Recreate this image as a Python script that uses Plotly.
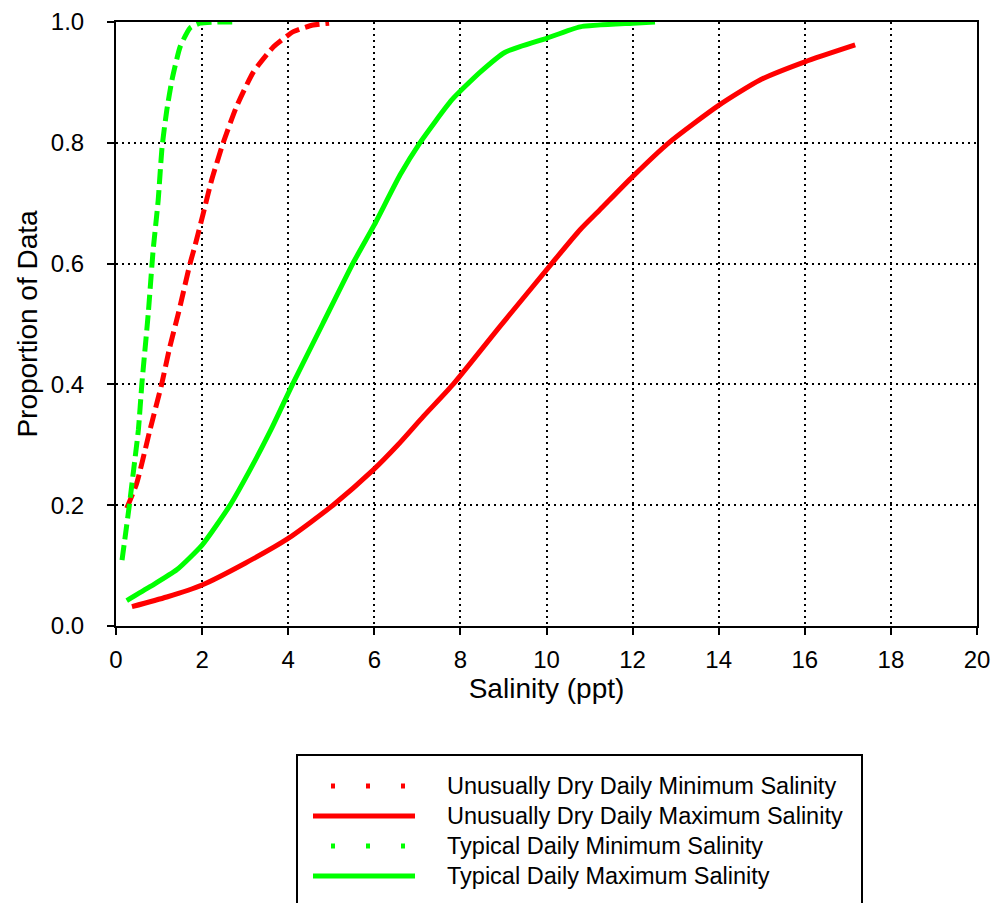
import plotly.graph_objects as go

# ---- data ----
dry_min_x = [0.25, 0.48, 0.79, 1.06, 1.25, 1.45, 1.72, 1.84, 2.03, 2.22, 2.49, 2.80, 3.19, 3.66, 4.12, 4.58, 4.95]
dry_min_y = [0.195, 0.236, 0.325, 0.40, 0.462, 0.518, 0.60, 0.631, 0.684, 0.738, 0.80, 0.86, 0.917, 0.959, 0.984, 0.995, 0.998]

dry_max_x = [0.37, 1.18, 2.0, 3.0, 4.0, 5.04, 5.97, 6.55, 7.14, 7.83, 8.92, 10.12, 10.78, 11.24, 12.0, 12.84, 14.0, 14.96, 16.0, 17.17]
dry_max_y = [0.032, 0.048, 0.068, 0.104, 0.145, 0.2, 0.258, 0.30, 0.347, 0.40, 0.496, 0.60, 0.656, 0.689, 0.744, 0.80, 0.862, 0.904, 0.934, 0.962]

typ_min_x = [0.14, 0.31, 0.40, 0.52, 0.60, 0.63, 0.75, 0.86, 0.98, 1.07, 1.18, 1.30, 1.49, 1.72, 1.95, 2.35, 2.79]
typ_min_y = [0.109, 0.2, 0.253, 0.325, 0.40, 0.424, 0.518, 0.62, 0.705, 0.793, 0.854, 0.904, 0.959, 0.99, 0.998, 1.0, 1.0]

typ_max_x = [0.25, 0.79, 1.41, 2.0, 2.65, 3.11, 3.6, 4.1, 4.8, 5.5, 6.0, 6.6, 7.06, 7.8, 8.46, 9.04, 10.0, 10.78, 12.0, 12.52]
typ_max_y = [0.042, 0.065, 0.093, 0.134, 0.2, 0.258, 0.325, 0.40, 0.50, 0.60, 0.664, 0.747, 0.80, 0.871, 0.917, 0.95, 0.973, 0.992, 0.998, 1.0]

legend_labels = [
    "Unusually Dry Daily Minimum Salinity",
    "Unusually Dry Daily Maximum Salinity",
    "Typical Daily Minimum Salinity",
    "Typical Daily Maximum Salinity",
]

RED = "#ff0000"
GREEN = "#00ff00"
FONT = "Arial, Liberation Sans, sans-serif"

W, H = 993, 903
ML, MR, MT, MB = 116, 16, 22, 277
PW, PH = W - ML - MR, H - MT - MB


def px_x(p):
    return (p - ML) / PW


def px_y(p):
    return (H - MB - p) / PH


fig = go.Figure()
fig.add_trace(go.Scatter(x=dry_max_x, y=dry_max_y, mode="lines", name=legend_labels[1],
                         line=dict(color=RED, width=5, shape="spline", smoothing=0.6), showlegend=False))
fig.add_trace(go.Scatter(x=typ_max_x, y=typ_max_y, mode="lines", name=legend_labels[3],
                         line=dict(color=GREEN, width=5, shape="spline", smoothing=0.5), showlegend=False))
fig.add_trace(go.Scatter(x=dry_min_x, y=dry_min_y, mode="lines", name=legend_labels[0],
                         line=dict(color=RED, width=5, dash="15px,6px", shape="spline", smoothing=0.5), showlegend=False))
fig.add_trace(go.Scatter(x=typ_min_x, y=typ_min_y, mode="lines", name=legend_labels[2],
                         line=dict(color=GREEN, width=5, dash="15px,6px", shape="spline", smoothing=0.5), showlegend=False))

axis_common = dict(
    showline=True, linecolor="black", linewidth=2, mirror=True,
    ticks="outside", ticklen=7, tickwidth=2, tickcolor="black",
    showgrid=True, gridcolor="black", gridwidth=1.5, griddash="2px,4px",
    zeroline=False, automargin=False,
    tickfont=dict(family=FONT, size=24, color="black"),
)

fig.update_xaxes(range=[0, 20], dtick=2, tick0=0,
                 title=dict(text="Salinity (ppt)", font=dict(family=FONT, size=28, color="black"), standoff=0),
                 ticklabelstandoff=4, **axis_common)
fig.update_yaxes(range=[0, 1], dtick=0.2, tick0=0, tickformat=".1f",
                 title=dict(text="Proportion of Data", font=dict(family=FONT, size=28, color="black"), standoff=5),
                 ticklabelstandoff=18, **axis_common)

# ---- hand-drawn legend box ----
shapes = [dict(type="rect", xref="paper", yref="paper",
               x0=px_x(297), x1=px_x(862), y0=px_y(755), y1=px_y(915),
               line=dict(color="black", width=2), fillcolor="white", layer="above")]
rows_y = [786, 816, 846, 876]
styles = [(RED, "4px,31px"), (RED, "solid"), (GREEN, "4px,31px"), (GREEN, "solid")]
for ry, (col, dash), lab in zip(rows_y, styles, legend_labels):
    x0 = 331 if dash != "solid" else 313
    shapes.append(dict(type="line", xref="paper", yref="paper",
                       x0=px_x(x0), x1=px_x(415), y0=px_y(ry), y1=px_y(ry),
                       line=dict(color=col, width=5, dash=dash)))
annotations = []
for ry, lab in zip(rows_y, legend_labels):
    annotations.append(dict(xref="paper", yref="paper", x=px_x(445), y=px_y(ry),
                            xanchor="left", yanchor="middle", text=lab, showarrow=False,
                            font=dict(family=FONT, size=23.5, color="black")))

fig.update_layout(
    width=W, height=H, margin=dict(l=ML, r=MR, t=MT, b=MB, autoexpand=False),
    paper_bgcolor="white", plot_bgcolor="white",
    shapes=shapes, annotations=annotations, showlegend=False,
    font=dict(family=FONT, color="black"),
)

fig.write_html("out.html")
